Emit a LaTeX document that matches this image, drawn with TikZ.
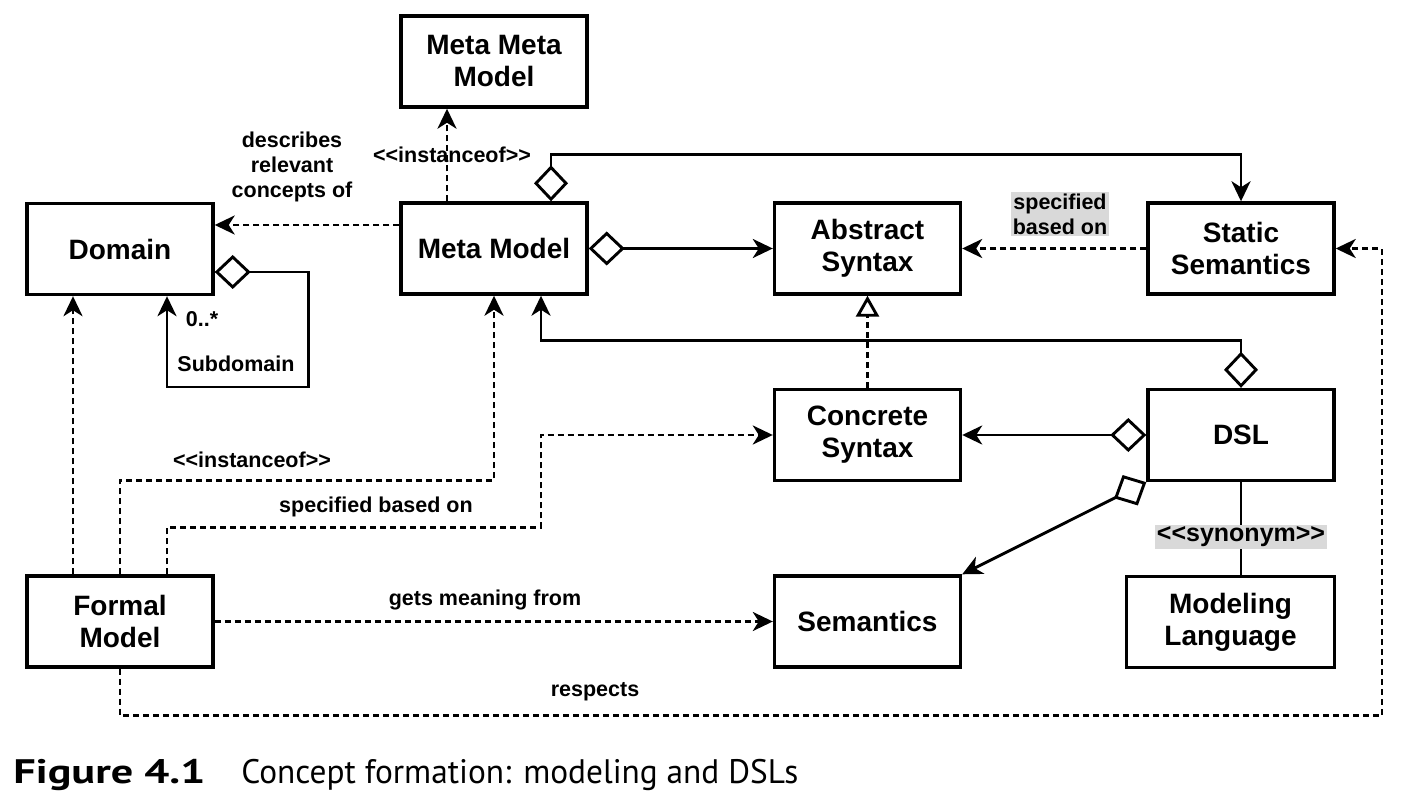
\documentclass[tikz,border=0pt]{standalone}
\usepackage{fontspec}
\setmainfont{Liberation Sans}[Ligatures=TeXOff]
\newfontfamily\capfont{PT Sans}
\usetikzlibrary{arrows.meta}

\tikzset{
  box/.style={draw, line width=1.7pt, minimum width=93pt, minimum height=45.5pt,
    align=center, font=\fontsize{14}{16}\selectfont\bfseries},
  lbl/.style={align=center, inner sep=1pt, font=\fontsize{10.75}{12.5}\selectfont\bfseries},
  hilite/.style={lbl, fill=black!15},
  dep/.style={-{Stealth[length=10pt,width=9.5pt,inset=3pt]}, dash pattern=on 3pt off 2pt},
  agg/.style={{Diamond[open,length=18pt,width=17pt]}-{Stealth[length=10pt,width=9.5pt,inset=3pt]}},
  real/.style={-{Triangle[open,length=10.5pt,width=11.5pt]}, dash pattern=on 3pt off 2pt}
}

\begin{document}
\begin{tikzpicture}[x=0.5pt, y=-0.5pt, line width=1.45pt]
\useasboundingbox (0,0) rectangle (1414,802);
\node[box] (mmm) at (494,61.5) {Meta Meta\\Model};
\node[box] (domain) at (120,249) {Domain};
\node[box] (mm) at (494,248.5) {Meta Model};
\node[box] (abstract) at (867.5,248.5) {Abstract\\Syntax};
\node[box] (static) at (1241,248.5) {Static\\Semantics};
\node[box] (concrete) at (867.5,435) {Concrete\\Syntax};
\node[box] (dsl) at (1241,435) {DSL};
\node[box] (formal) at (120,621.5) {Formal\\Model};
\node[box] (semantics) at (867.5,621.5) {Semantics};
\node[box, minimum width=104pt] (modeling) at (1230.5,622) {Modeling\\Language};

\draw[dep] ([xshift=-23.5pt]mm.north) -- ([xshift=-23.5pt]mm.north |- mmm.south);
\node[lbl] (instmm) at (452,155) {<<instanceof>>};
\draw[dep] ([yshift=11.75pt]mm.west) -- ([yshift=11.75pt]mm.west -| domain.east);
\node[lbl] (describes) at (292,167) {describes\\relevant\\concepts of};
\draw[agg] (mm.east) -- (abstract.west);
\draw[agg] ([xshift=28.5pt]mm.north) -- ++(0,-47) -| (static.north);
\draw[dep] (static.west) -- (abstract.east);
\node[hilite] (specstatic) at (1060,214) {specified\\based on};
\draw[agg] (dsl.north) -- ++(0,-47) -| ([xshift=23.5pt]mm.south);
\draw[real] (concrete.north) -- (abstract.south);
\draw[agg] (dsl.west) -- (concrete.east);
\draw[agg] (dsl.south west) -- (semantics.north east);
\draw (dsl.south) -- (dsl.south |- modeling.north);
\node[hilite, font=\fontsize{12.5}{14}\selectfont\bfseries] (synonym) at (1241,537) {<<synonym>>};

\draw[agg] ([yshift=-11.5pt]domain.east) -- ++(94,0) -- ++(0,115) -| ([xshift=23.5pt]domain.south);
\node[lbl] (mult) at (202,319) {0..*};
\node[lbl] (subdomain) at (236,364) {Subdomain};

\draw[dep] ([xshift=-23.5pt]formal.north) -- ([xshift=-23.5pt]domain.south);
\draw[dep] (formal.north) -- ++(0,-94) -| (mm.south);
\node[lbl] (instformal) at (252,460) {<<instanceof>>};
\draw[dep] ([xshift=23.5pt]formal.north) -- ++(0,-47) -- ++(374,0) |- (concrete.west);
\node[lbl] (specformal) at (376,507) {specified based on};
\draw[dep] (formal.east) -- (semantics.west);
\node[lbl] (meaning) at (485,600) {gets meaning from};
\draw[dep] (formal.south) |- ++(1262,47) |- (static.east);
\node[lbl] (respects) at (595,692) {respects};

\node[anchor=base west, inner sep=0pt, font=\capfont\fontsize{17}{20}\selectfont] (caption) at (12,783)
  {{\bfseries\addfontfeatures{FakeStretch=1.3}Figure 4.1}\hspace{18pt}{\addfontfeatures{FakeStretch=0.98}Concept formation: modeling and DSLs}};
\end{tikzpicture}
\end{document}
